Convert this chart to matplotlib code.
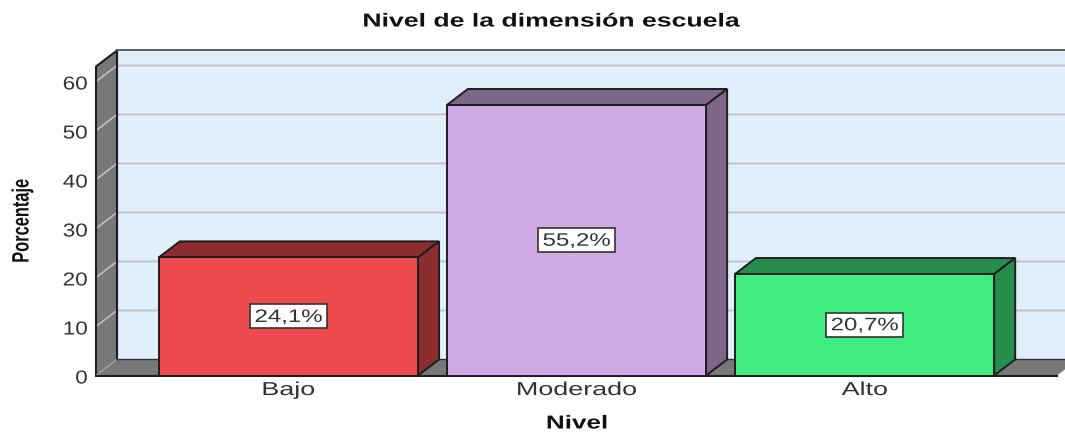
import matplotlib
matplotlib.use("Agg")
import matplotlib.pyplot as plt
from matplotlib.patches import Polygon, Rectangle
from matplotlib.patheffects import AbstractPathEffect
from matplotlib.transforms import Affine2D

categorias = ["Bajo", "Moderado", "Alto"]
porcentajes = [24.1, 55.2, 20.7]
etiquetas = ["24,1%", "55,2%", "20,7%"]
ticks_y = [0, 10, 20, 30, 40, 50, 60]
titulo = "Nivel de la dimensión escuela"

color_frente = ["#EE4B4E", "#CFAAE6", "#40EB7F"]
color_lado = ["#8C2D2F", "#7F678A", "#268D4C"]

# profundidad del efecto 3D, en unidades de datos
dx = 0.0729
dy = 3.27
ancho = 0.9
x_min, x_max = -0.668, 2.668
y_max = 63.06

plt.rcParams["font.family"] = ["Liberation Sans", "DejaVu Sans"]


# el texto del original esta estirado a lo ancho
class Estirar(AbstractPathEffect):
    def __init__(self, sx=1.0, sy=1.0, ancla="centro", baja=0):
        super().__init__()
        self.sx = sx
        self.sy = sy
        self.ancla = ancla
        self.baja = baja

    def draw_path(self, renderer, gc, tpath, affine, rgbFace=None):
        caja = tpath.get_extents(affine)
        cx = caja.x1 if self.ancla == "derecha" else (caja.x0 + caja.x1) / 2
        cy = (caja.y0 + caja.y1) / 2
        t = affine + Affine2D().translate(-cx, -cy).scale(self.sx, self.sy).translate(cx, cy - self.baja)
        renderer.draw_path(gc, tpath, t, rgbFace)


fig = plt.figure(figsize=(10.65, 4.32), dpi=100)
ax = fig.add_axes([96/1065, (432-375.5)/432, (1057-96)/1065, 309/432])
ax.set_xlim(x_min, x_max)
ax.set_ylim(0, y_max)
for s in ax.spines.values():
    s.set_visible(False)
ax.patch.set_visible(False)

# pared del fondo
ax.add_patch(Polygon([(x_min+dx, dy), (x_max+dx, dy), (x_max+dx, y_max+dy), (x_min+dx, y_max+dy)],
                     fc="#E1EEFB", ec="none", clip_on=False, zorder=1))
# pared izquierda y piso
ax.add_patch(Polygon([(x_min, 0), (x_min+dx, dy), (x_min+dx, y_max+dy), (x_min, y_max)],
                     fc="#787878", ec="none", clip_on=False, zorder=1.5))
ax.add_patch(Polygon([(x_min, 0), (x_max, 0), (x_max+dx, dy), (x_min+dx, dy)],
                     fc="#787878", ec="none", clip_on=False, zorder=1.5))

# lineas de la grilla
for v in ticks_y[1:]:
    ax.plot([x_min, x_min+dx, x_max+dx], [v, v+dy, v+dy], color="#BEBFC4", lw=1.2,
            clip_on=False, zorder=2)

# bordes
borde = "#1E1E1E"
ax.plot([x_min, x_min, x_min+dx, x_min+dx, x_min+dx], [0, y_max, y_max+dy, dy, y_max+dy],
        color=borde, lw=1.5, clip_on=False, zorder=3)
ax.plot([x_min+dx, x_max+dx], [y_max+dy, y_max+dy], color="#555555", lw=1.3, clip_on=False, zorder=3)
ax.plot([x_min, x_min+dx], [0, dy], color="#A0A0A0", lw=1, clip_on=False, zorder=3)
ax.plot([x_min+dx, x_max+dx], [dy, dy], color="#333333", lw=1, clip_on=False, zorder=3)
ax.plot([x_min, x_max], [0, 0], color=borde, lw=1.5, clip_on=False, zorder=3)

# barras
xs = list(range(len(categorias)))
ax.bar(xs, porcentajes, width=ancho, color=color_frente, edgecolor=borde, linewidth=1.4, zorder=6)
for i, v in enumerate(porcentajes):
    x0 = xs[i] - ancho/2
    x1 = xs[i] + ancho/2
    ax.add_patch(Polygon([(x0, v), (x1, v), (x1+dx, v+dy), (x0+dx, v+dy)],
                         fc=color_lado[i], ec=borde, lw=1.4, zorder=5))
    ax.add_patch(Polygon([(x1, 0), (x1+dx, dy), (x1+dx, v+dy), (x1, v)],
                         fc=color_lado[i], ec=borde, lw=1.4, zorder=5))
    # caja de la etiqueta: 77x24 px
    bw = 77/288
    bh = 24/4.9
    ax.add_patch(Rectangle((xs[i]-bw/2, v/2-bh/2), bw, bh, fc="white", ec="#333333", lw=1.2, zorder=7))
    ax.text(xs[i], v/2, etiquetas[i], ha="center", va="center", fontsize=13, color="#333333", zorder=8,
            path_effects=[Estirar(sx=1.33, baja=1)])

ax.set_xticks(xs)
ax.set_xticklabels(categorias, fontsize=13.5, color="#333333", path_effects=[Estirar(sx=1.435, baja=1)])
ax.set_yticks(ticks_y)
ax.set_yticklabels([str(t) for t in ticks_y], fontsize=13.5, color="#333333",
                   path_effects=[Estirar(sx=1.2, ancla="derecha", baja=1.5)])
ax.tick_params(axis="both", length=0)
ax.tick_params(axis="x", pad=4)
ax.tick_params(axis="y", pad=6)

fig.text(551/1065, 1-22/432, titulo, ha="center", va="center", fontsize=13.5, fontweight="bold",
         color="#111111", path_effects=[Estirar(sx=1.42)])
fig.text(577/1065, 1-424/432, "Nivel", ha="center", va="center", fontsize=13.5, fontweight="bold",
         color="#111111", path_effects=[Estirar(sx=1.39)])
fig.text(22/1065, 1-221/432, "Porcentaje", ha="center", va="center", rotation=90, fontsize=17,
         fontweight="bold", color="#111111", path_effects=[Estirar(sy=0.695)])

fig.savefig("out.png", dpi=100)
